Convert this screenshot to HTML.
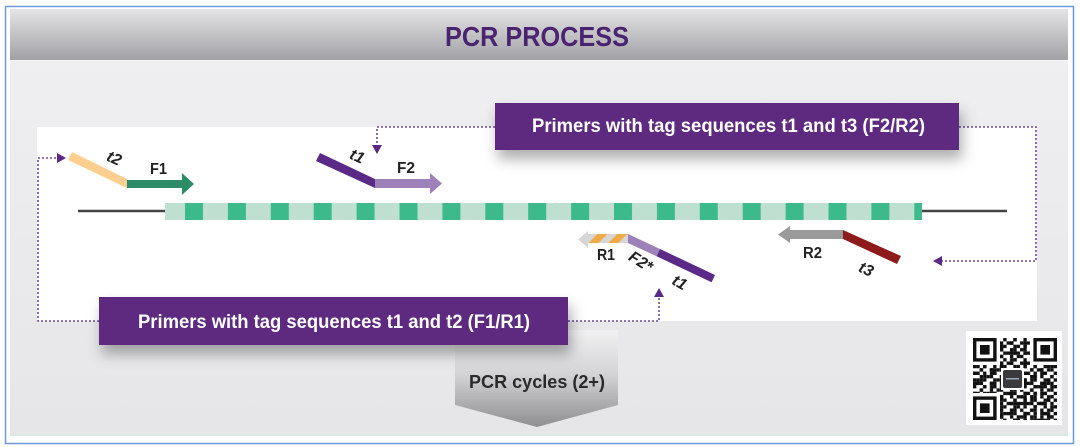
<!DOCTYPE html>
<html><head><meta charset="utf-8"><style>
html,body{margin:0;padding:0;background:#fff;}
svg{display:block;}
text{font-family:"Liberation Sans",Arial,sans-serif;}
</style></head><body>
<svg width="1080" height="447" viewBox="0 0 1080 447" xmlns="http://www.w3.org/2000/svg">
<defs>
<linearGradient id="hdr" x1="0" y1="0" x2="0" y2="1">
<stop offset="0" stop-color="#e4e4e6"/><stop offset="1" stop-color="#a2a2a6"/>
</linearGradient>
<linearGradient id="pnl" x1="0" y1="0" x2="0" y2="1">
<stop offset="0" stop-color="#f0f0f2"/><stop offset="1" stop-color="#e6e6e8"/>
</linearGradient>
<linearGradient id="arr" x1="0" y1="0" x2="0" y2="1">
<stop offset="0" stop-color="#f1f1f2"/><stop offset="0.45" stop-color="#d4d4d6"/><stop offset="1" stop-color="#8f8f92"/>
</linearGradient>
<pattern id="dna" patternUnits="userSpaceOnUse" x="185" y="203" width="42.9" height="17">
<rect x="0" y="0" width="42.9" height="17" fill="#bfe0d0"/>
<rect x="0" y="0" width="18" height="17" fill="#3dba8c"/>
</pattern>
<pattern id="stripe" patternUnits="userSpaceOnUse" width="14" height="14" patternTransform="rotate(45)">
<rect width="14" height="14" fill="#d6d6d6"/>
<rect width="7" height="14" fill="#f2aa45"/>
</pattern>
<pattern id="q1" patternUnits="userSpaceOnUse" x="973" y="338" width="10.08" height="6.72">
<rect x="0" y="0" width="3.36" height="3.36" fill="#111"/>
<rect x="6.72" y="3.36" width="3.36" height="3.36" fill="#111"/>
</pattern>
<pattern id="q2" patternUnits="userSpaceOnUse" x="973" y="338" width="16.8" height="10.08">
<rect x="6.72" y="0" width="3.36" height="3.36" fill="#111"/>
<rect x="0" y="3.36" width="6.72" height="3.36" fill="#111"/>
<rect x="10.08" y="6.72" width="3.36" height="3.36" fill="#111"/>
</pattern>
<pattern id="q3" patternUnits="userSpaceOnUse" x="973" y="338" width="23.52" height="16.8">
<rect x="3.36" y="6.72" width="3.36" height="6.72" fill="#111"/>
<rect x="16.8" y="13.44" width="6.72" height="3.36" fill="#111"/>
<rect x="13.44" y="3.36" width="3.36" height="3.36" fill="#111"/>
</pattern>
<filter id="sh" x="-20%" y="-50%" width="140%" height="220%">
<feDropShadow dx="3" dy="9" stdDeviation="7" flood-color="#000" flood-opacity="0.32"/>
</filter>
</defs>

<!-- outer border -->
<rect x="5.5" y="6.5" width="1068" height="437" fill="#fff" stroke="#6a9ad8" stroke-width="1.5"/>
<!-- panel -->
<rect x="10" y="9" width="1058" height="425" fill="url(#pnl)"/>
<rect x="10" y="434" width="1058" height="2" fill="#d9e9e2"/>
<!-- header -->
<rect x="10" y="9" width="1058" height="51" fill="url(#hdr)"/>
<rect x="10" y="60" width="1058" height="1" fill="#f6f6f8"/>
<text x="445" y="46" font-size="28" font-weight="bold" fill="#4a2470" textLength="184" lengthAdjust="spacingAndGlyphs">PCR PROCESS</text>

<!-- white panel -->
<rect x="37" y="127" width="1000" height="194" fill="#fff"/>

<!-- DNA -->
<line x1="78" y1="211" x2="165" y2="211" stroke="#444" stroke-width="2.5"/>
<line x1="922" y1="211" x2="1007" y2="211" stroke="#444" stroke-width="2.5"/>
<rect x="165" y="203" width="757" height="17" fill="url(#dna)"/>

<!-- t2 + F1 -->
<polygon points="72,152 127,179 127,188 68,160" fill="#fdcf8e"/>
<rect x="127" y="180" width="56" height="8" fill="#2d8c68"/>
<polygon points="182,173 194,184 182,195" fill="#2d8c68"/>
<text transform="translate(112,163) rotate(25)" text-anchor="middle" font-size="16" font-weight="bold" font-style="italic" fill="#222">t2</text>
<text x="150" y="174" font-size="16" font-weight="bold" fill="#222" textLength="17" lengthAdjust="spacingAndGlyphs">F1</text>

<!-- t1 + F2 -->
<polygon points="320,153 375,179 375,188 316,161" fill="#5a2a86"/>
<rect x="375" y="179" width="56" height="9" fill="#9d81b9"/>
<polygon points="430,173 442,183.5 430,194" fill="#9d81b9"/>
<text transform="translate(355,161) rotate(25)" text-anchor="middle" font-size="16" font-weight="bold" font-style="italic" fill="#222">t1</text>
<text x="397" y="173" font-size="16" font-weight="bold" fill="#222" textLength="18" lengthAdjust="spacingAndGlyphs">F2</text>

<!-- R1 / F2* / t1 -->
<polygon points="588,231 578,239.5 588,248" fill="#d6d6d6"/>
<rect x="588" y="234" width="40" height="9" fill="url(#stripe)"/>
<polygon points="628,234 660,249 656.6,256.3 628,243" fill="#9d81b9"/>
<polygon points="660,249 715,275 711.6,282.2 656.6,256.3" fill="#5a2a86"/>
<text x="597" y="260" font-size="16" font-weight="bold" fill="#222" textLength="18" lengthAdjust="spacingAndGlyphs">R1</text>
<text transform="translate(638,266) rotate(32)" text-anchor="middle" font-size="16" font-weight="bold" font-style="italic" fill="#222">F2*</text>
<text transform="translate(677,287) rotate(30)" text-anchor="middle" font-size="16" font-weight="bold" font-style="italic" fill="#222">t1</text>

<!-- R2 / t3 -->
<polygon points="790,226 778,234.5 790,243" fill="#9a9a9a"/>
<rect x="790" y="230" width="53" height="9" fill="#9a9a9a"/>
<polygon points="843,230 901,256 897,264 843,239" fill="#8e1b1b"/>
<text x="803" y="258" font-size="16" font-weight="bold" fill="#222" textLength="19" lengthAdjust="spacingAndGlyphs">R2</text>
<text transform="translate(864,274) rotate(25)" text-anchor="middle" font-size="16" font-weight="bold" font-style="italic" fill="#222">t3</text>

<!-- dotted connectors -->
<g fill="none" stroke="#6d4a95" stroke-width="1.6" stroke-dasharray="2 2">
<polyline points="99,321 38,321 38,158 57,158"/>
<polyline points="495,127 377,127 377,145"/>
<polyline points="959,127 1036,127 1036,261 942,261"/>
<polyline points="568,321 659,321 659,297"/>
</g>
<g fill="#5a2a86">
<polygon points="57,153 66,158 57,163"/>
<polygon points="372,145 377,154 382,145"/>
<polygon points="942,256 933,261 942,266"/>
<polygon points="654,297 659,288 664,297"/>
</g>

<!-- PCR cycles arrow -->
<polygon points="455,330 618,330 618,405 537,427 455,405" fill="url(#arr)"/>
<text x="469" y="388" font-size="18" font-weight="bold" fill="#2a2a2a" textLength="136" lengthAdjust="spacingAndGlyphs">PCR cycles (2+)</text>

<!-- purple boxes -->
<rect x="495" y="103" width="464" height="47" fill="#5d2c80" filter="url(#sh)"/>
<text x="532" y="132" font-size="19" font-weight="bold" fill="#fff" textLength="393" lengthAdjust="spacingAndGlyphs">Primers with tag sequences t1 and t3 (F2/R2)</text>
<rect x="99" y="297" width="469" height="48" fill="#5d2c80" filter="url(#sh)"/>
<text x="138" y="328" font-size="19" font-weight="bold" fill="#fff" textLength="392" lengthAdjust="spacingAndGlyphs">Primers with tag sequences t1 and t2 (F1/R1)</text>

<!-- QR code -->
<rect x="966" y="331" width="96" height="94" fill="#fff"/>
<rect x="973" y="338" width="84" height="82" fill="url(#q1)"/>
<rect x="973" y="338" width="84" height="82" fill="url(#q2)"/>
<rect x="973" y="338" width="84" height="82" fill="url(#q3)"/>
<g>
<rect x="973" y="338" width="27" height="27" fill="#fff"/>
<rect x="1030" y="338" width="27" height="27" fill="#fff"/>
<rect x="973" y="393" width="27" height="27" fill="#fff"/>
<rect x="974.7" y="339.7" width="20.2" height="20.2" fill="none" stroke="#111" stroke-width="3.4"/>
<rect x="980" y="345" width="9.6" height="9.6" fill="#111"/>
<rect x="1035.1" y="339.7" width="20.2" height="20.2" fill="none" stroke="#111" stroke-width="3.4"/>
<rect x="1040.4" y="345" width="9.6" height="9.6" fill="#111"/>
<rect x="974.7" y="398.1" width="20.2" height="20.2" fill="none" stroke="#111" stroke-width="3.4"/>
<rect x="980" y="403.4" width="9.6" height="9.6" fill="#111"/>
</g>
<rect x="1001" y="368" width="23" height="22" fill="#fff"/>
<rect x="1003" y="370" width="19" height="18" rx="2" fill="#3a3a3c"/>
<rect x="1006" y="378" width="13" height="1.5" fill="#9ab"/>
</svg>
</body></html>
